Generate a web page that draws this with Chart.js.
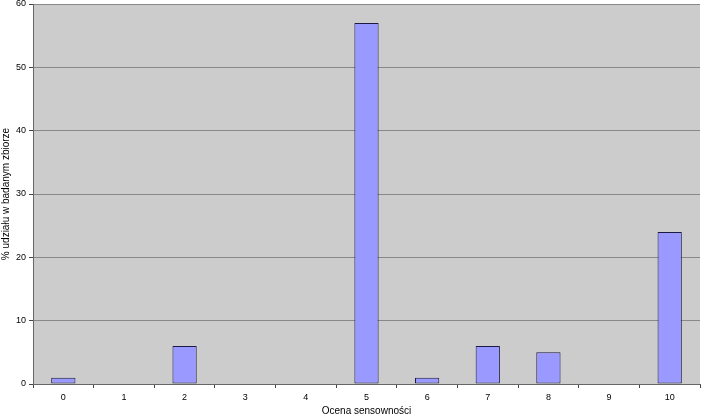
<!DOCTYPE html>
<html><head><meta charset="utf-8">
<script src="https://cdn.jsdelivr.net/npm/chart.js"></script>
<style>html,body{margin:0;padding:0;background:#fff}#wrap{width:702px;height:419px}</style>
</head><body><div id="wrap"><canvas id="c" width="702" height="419"></canvas></div>
<script>
const categories = ["0","1","2","3","4","5","6","7","8","9","10"];
const values = [1,0,6,0,0,57,1,6,5,0,24];
const yTicks = [0,10,20,30,40,50,60];
const xTitle = "Ocena sensowności";
const yTitle = "% udziału w badanym zbiorze";

const bgPlugin = {
  id: 'bg',
  beforeDraw(chart) {
    const {ctx, chartArea: a} = chart;
    ctx.save();
    ctx.fillStyle = '#CCCCCC';
    ctx.fillRect(a.left, a.top, a.right - a.left, a.bottom - a.top);
    ctx.restore();
  }
};

new Chart(document.getElementById('c'), {
  type: 'bar',
  data: {
    labels: categories,
    datasets: [{
      data: values.map(v => v === 0 ? null : v),
      backgroundColor: '#9999FF',
      borderColor: '#1A1A44',
      borderWidth: 1,
      borderSkipped: false,
      barPercentage: 0.4,
      categoryPercentage: 1.0
    }]
  },
  options: {
    responsive: false,
    animation: false,
    devicePixelRatio: 1,
    layout: {padding: {top: 4, right: 2, left: 0, bottom: 0}},
    plugins: {legend: {display: false}, tooltip: {enabled: false}},
    scales: {
      x: {
        grid: {display: true, offset: true, drawOnChartArea: false, drawTicks: true, tickLength: 4, color: '#444'},
        border: {display: true, color: '#666'},
        ticks: {color: '#000', font: {family: 'Liberation Sans', size: 9}, padding: 4},
        title: {display: true, text: xTitle, color: '#000', font: {family: 'Liberation Sans', size: 10}, padding: {top: 2, bottom: 2}},
        afterFit(s) { s.height = 35; s.paddingLeft = 0; s.paddingRight = 0; }
      },
      y: {
        min: 0, max: 60,
        afterBuildTicks(s) { s.ticks = yTicks.map(v => ({value: v})); },
        grid: {color: '#888', tickLength: 4, tickColor: '#444'},
        border: {display: true, color: '#666'},
        ticks: {color: '#000', font: {family: 'Liberation Sans', size: 9}, padding: 3},
        title: {display: true, text: yTitle, color: '#000', font: {family: 'Liberation Sans', size: 10}, padding: {top: 0, bottom: 2}},
        afterFit(s) { s.width = 33; s.paddingTop = 0; s.paddingBottom = 0; }
      }
    }
  },
  plugins: [bgPlugin]
});
</script></body></html>
